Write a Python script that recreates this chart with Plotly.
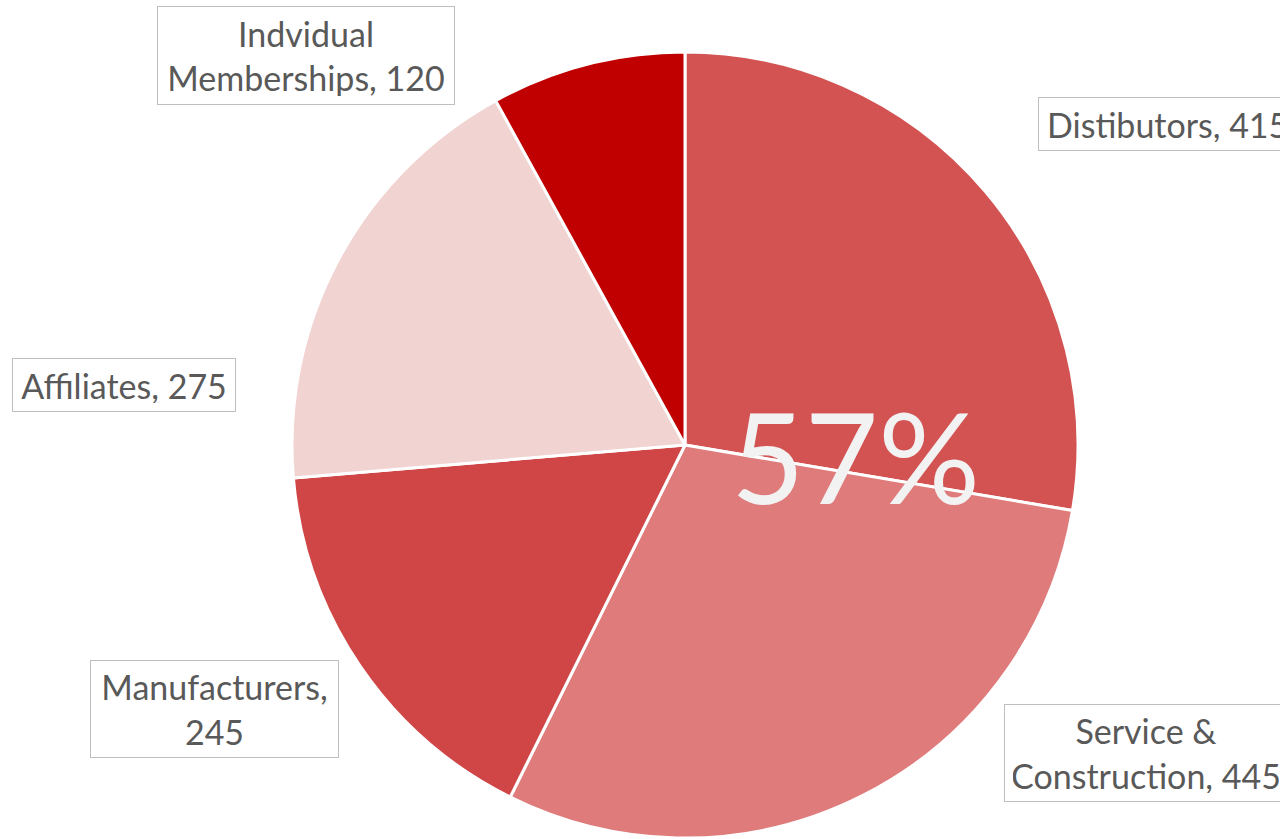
import plotly.graph_objects as go

names = ["Distibutors", "Service & Construction", "Manufacturers", "Affiliates", "Indvidual Memberships"]
values = [415, 445, 245, 275, 120]
colors = ["#D35352", "#DF7B7B", "#D04646", "#F1D3D2", "#C00000"]
center_text = "57%"

W, H = 1280, 839
cx, cy, r = 685, 445, 393

fig = go.Figure(go.Pie(
    labels=names,
    values=values,
    sort=False,
    direction="clockwise",
    rotation=0,
    marker=dict(colors=colors, line=dict(color="white", width=3)),
    textinfo="none",
    hoverinfo="label+value",
    showlegend=False,
    domain=dict(x=[(cx - r) / W, (cx + r) / W], y=[1 - (cy + r) / H, 1 - (cy - r) / H]),
))

label_texts = [
    f"Distibutors, {values[0]}",
    f"Service &<br>Construction, {values[1]}",
    f"Manufacturers,<br>{values[2]}",
    f"Affiliates, {values[3]}",
    f"Indvidual<br>Memberships, {values[4]}",
]
# box (left, top, width, height, align) in pixels
boxes = [
    (1038, 97, 320, 54, "left"),
    (1004, 704, 284, 98, "center"),
    (90, 660, 249, 98, "center"),
    (12, 358, 224, 54, "center"),
    (157, 6, 298, 99, "center"),
]
font = dict(family="Lato", size=34, color="#595959")
PAD = 8
for txt, (bx, by, bw, bh, al) in zip(label_texts, boxes):
    fig.add_annotation(
        x=bx / W, y=1 - by / H, xref="paper", yref="paper",
        xanchor="left", yanchor="top",
        text=txt, showarrow=False, font=font,
        width=bw - 2 - 2 * PAD, height=bh - 2 - 2 * PAD, borderwidth=1, borderpad=PAD,
        bordercolor="#BFBFBF", bgcolor="white", align=al,
    )

fig.add_annotation(
    x=855 / W, y=1 - 455 / H, xref="paper", yref="paper",
    xanchor="center", yanchor="middle",
    text=center_text, showarrow=False,
    font=dict(family="Lato", size=127, color="#F2F2F2"),
)

fig.update_layout(
    width=W, height=H,
    margin=dict(l=0, r=0, t=0, b=0),
    paper_bgcolor="white", plot_bgcolor="white",
)

fig.write_html(
    "out.html",
    config={"displayModeBar": False},
    post_script="document.body.style.margin='0';document.body.style.overflow='hidden';",
)
